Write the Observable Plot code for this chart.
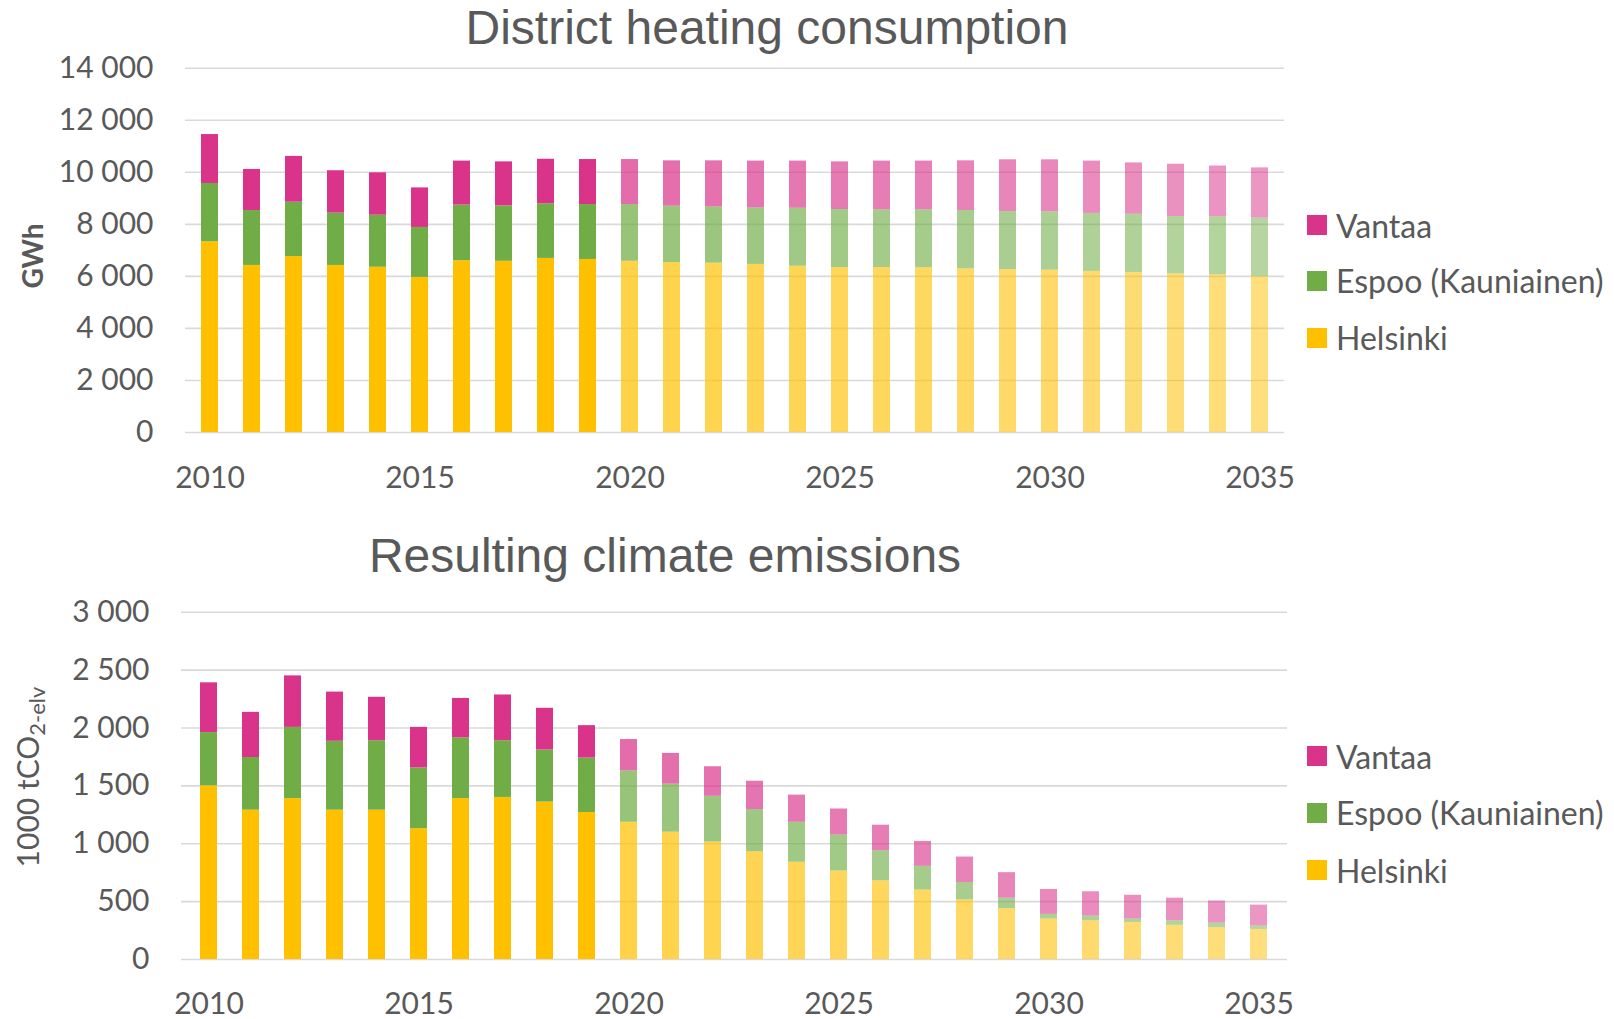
<!DOCTYPE html>
<html><head><meta charset="utf-8">
<script src="https://cdn.jsdelivr.net/npm/d3@7"></script>
<script src="https://cdn.jsdelivr.net/npm/@observablehq/plot@0.6"></script>
<style>
body{margin:0;background:#fff;}
#wrap{position:relative;width:1614px;height:1019px;overflow:hidden;font-family:Lato,sans-serif;color:#595959;background:#fff;}
.chart{position:absolute;left:0;}
.title{position:absolute;font-family:"Liberation Sans",Arial,sans-serif;font-size:48px;line-height:48px;white-space:nowrap;transform:translateX(-50%);color:#595959;}
.ylab{position:absolute;white-space:nowrap;transform:translate(-50%,-50%) rotate(-90deg);font-family:Lato,sans-serif;color:#595959;line-height:1;}
.ylab sub{font-size:22px;vertical-align:-6px;}
.item{position:absolute;left:1307px;height:40px;display:flex;align-items:center;white-space:nowrap;font-size:32px;color:#595959;}
.sw{width:20px;height:20px;margin-right:9px;flex:none;}
</style></head>
<body>
<div id="wrap"></div>
<script>
const years = [2010,2011,2012,2013,2014,2015,2016,2017,2018,2019,2020,2021,2022,2023,2024,2025,2026,2027,2028,2029,2030,2031,2032,2033,2034,2035];
const xTicks = [2010,2015,2020,2025,2030,2035];
const cities = ["Helsinki","Espoo (Kauniainen)","Vantaa"];
const colors = ["#FFC000","#70AD47","#D9338A"];
const firstProjectedYear = 2020;

// District heating consumption, GWh
const heatHelsinki = [7330,6420,6760,6420,6350,5960,6600,6580,6690,6650,6580,6530,6510,6460,6390,6340,6340,6330,6290,6260,6240,6190,6150,6100,6060,6000];
const heatEspoo    = [2240,2110,2090,2010,2000,1920,2140,2130,2100,2110,2180,2170,2160,2170,2230,2230,2220,2230,2240,2230,2240,2230,2240,2200,2230,2240];
const heatVantaa   = [1880,1580,1760,1630,1630,1520,1690,1690,1710,1730,1730,1740,1770,1800,1810,1830,1870,1870,1910,1990,2000,2010,1970,2010,1950,1930];
const heatTicks = [0,2000,4000,6000,8000,10000,12000,14000];

// Resulting climate emissions, 1000 tCO2-ekv
const emisHelsinki = [1500,1290,1390,1290,1290,1130,1390,1400,1360,1270,1185,1100,1015,930,840,765,680,600,515,440,350,335,320,295,275,260];
const emisEspoo    = [460,455,615,595,600,525,525,490,450,470,445,415,395,365,345,310,260,205,150,90,40,40,30,40,40,30];
const emisVantaa   = [430,390,445,425,375,350,340,395,360,280,270,265,255,245,235,225,220,215,220,220,215,210,205,195,190,180];
const emisTicks = [0,500,1000,1500,2000,2500,3000];

const loc = d3.formatLocale({decimal:",", thousands:"\u00a0", grouping:[3], currency:["",""]});
const fmt = loc.format(",");

function opacityFor(year){
  return year < firstProjectedYear ? 1 : 0.72 - 0.014*(year - firstProjectedYear);
}

function chart({series, yTicks, top, height, marginTop, marginBottom, marginLeft, marginRight, xPad}){
  const rows = [];
  years.forEach((yr,i)=>{
    cities.forEach((c,j)=> rows.push({year:yr, city:c, value:series[j][i]}));
  });
  const svg = Plot.plot({
    width:1614, height, marginTop, marginBottom, marginLeft, marginRight,
    style:{fontFamily:"Lato, sans-serif", fontSize:"30px", color:"#595959", background:"white", overflow:"visible"},
    x:{type:"band", domain:years, paddingInner:0.59, paddingOuter:0.31},
    y:{domain:[0, yTicks[yTicks.length-1]]},
    color:{domain:cities, range:colors},
    opacity:{type:"identity"},
    marks:[
      Plot.gridY(yTicks, {stroke:"#d9d9d9", strokeOpacity:1, strokeWidth:1.6}),
      Plot.barY(rows, {x:"year", y:"value", fill:"city", fillOpacity:d=>opacityFor(d.year), order:cities}),
      Plot.axisY(yTicks, {tickSize:0, tickPadding:32, tickFormat:fmt, fontSize:30, fill:"#595959", label:null}),
      Plot.axisX(xTicks, {tickSize:0, tickPadding:xPad, tickFormat:d=>String(d), fontSize:30, fill:"#595959", label:null})
    ]
  });
  svg.classList.add("chart");
  svg.style.top = top + "px";
  return svg;
}

const wrap = document.getElementById("wrap");
wrap.appendChild(chart({series:[heatHelsinki,heatEspoo,heatVantaa], yTicks:heatTicks, top:0, height:520, marginTop:67.7, marginBottom:88, marginLeft:185, marginRight:330, xPad:34}));
wrap.appendChild(chart({series:[emisHelsinki,emisEspoo,emisVantaa], yTicks:emisTicks, top:520, height:499, marginTop:91.7, marginBottom:60, marginLeft:181, marginRight:327, xPad:33}));

function addDiv(cls, html, css){
  const d = document.createElement("div");
  d.className = cls; d.innerHTML = html;
  Object.assign(d.style, css);
  wrap.appendChild(d);
  return d;
}
addDiv("title", "District heating consumption", {left:"767px", top:"4px"});
addDiv("title", "Resulting climate emissions", {left:"665px", top:"532px"});
addDiv("ylab", "GWh", {left:"32px", top:"256px", fontSize:"28px", fontWeight:"bold"});
addDiv("ylab", "1000 tCO<sub>2-elv</sub>", {left:"30px", top:"777px", fontSize:"30px"});

function legend(centers){
  [2,1,0].forEach((j,k)=>{
    addDiv("item", `<span class="sw" style="background:${colors[j]}"></span><span>${cities[j]}</span>`, {top:(centers[k]-20)+"px"});
  });
}
legend([225,280.5,337.5]);
legend([756,812.5,870]);
</script>
</body></html>
